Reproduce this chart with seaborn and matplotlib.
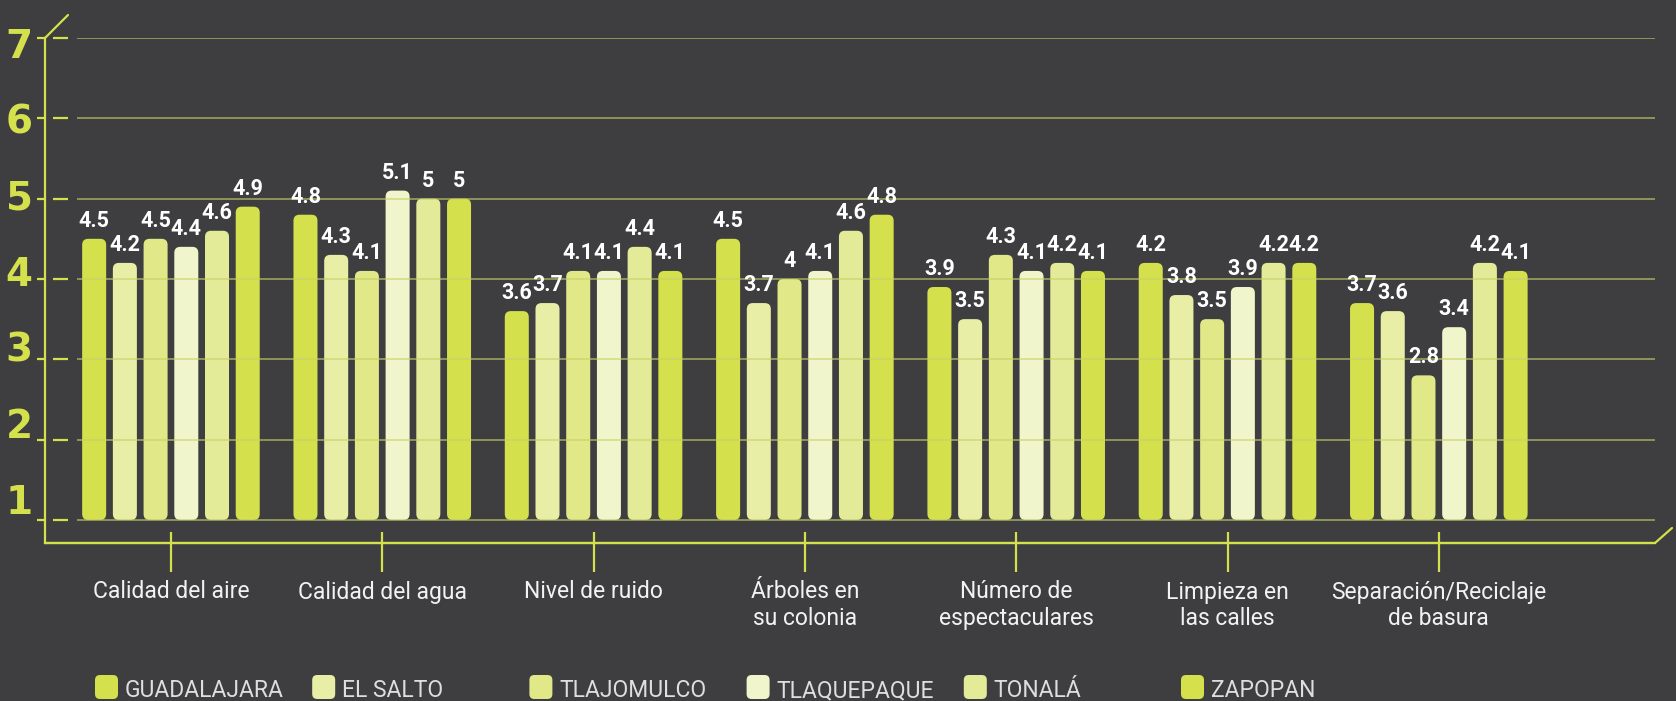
import matplotlib
matplotlib.use("Agg")
import matplotlib.pyplot as plt
from matplotlib.patches import FancyBboxPatch
import seaborn as sns
import pandas as pd

# --- data ---
categories = ["Calidad del aire", "Calidad del agua", "Nivel de ruido",
              "Árboles en\nsu colonia", "Número de\nespectaculares",
              "Limpieza en\nlas calles", "Separación/Reciclaje\nde basura"]
cities = ["GUADALAJARA", "EL SALTO", "TLAJOMULCO", "TLAQUEPAQUE", "TONALÁ", "ZAPOPAN"]
guadalajara = [4.5, 4.8, 3.6, 4.5, 3.9, 4.2, 3.7]
el_salto = [4.2, 4.3, 3.7, 3.7, 3.5, 3.8, 3.6]
tlajomulco = [4.5, 4.1, 4.1, 4.0, 4.3, 3.5, 2.8]
tlaquepaque = [4.4, 5.1, 4.1, 4.1, 4.1, 3.9, 3.4]
tonala = [4.6, 5.0, 4.4, 4.6, 4.2, 4.2, 4.2]
zapopan = [4.9, 5.0, 4.1, 4.8, 4.1, 4.2, 4.1]
yticks = [1, 2, 3, 4, 5, 6, 7]
colors = ["#d4e04c", "#e8eea5", "#e0e888", "#f0f5cb", "#e3eb98", "#d4e04c"]

series = [guadalajara, el_salto, tlajomulco, tlaquepaque, tonala, zapopan]
rows = []
for city, vals in zip(cities, series):
    for cat, v in zip(categories, vals):
        rows.append({"cat": cat, "city": city, "value": v, "rise": v - 1})
df = pd.DataFrame(rows)

bg = "#3e3e40"
yellow = "#d4e04c"
W, H = 1676, 701

sns.set_theme(style="white")
fig = plt.figure(figsize=(W / 100, H / 100), dpi=100, facecolor=bg)
ax_w, ax_h = 1610, 505
ax = fig.add_axes([45 / W, 1 - 543 / H, ax_w / W, ax_h / H])
ax.set_facecolor(bg)

sns.barplot(df, x="cat", y="rise", hue="city", order=categories, hue_order=cities,
            palette=dict(zip(cities, colors)), width=0.872, gap=0.218, bottom=1,
            saturation=1, legend=False, errorbar=None, ax=ax, zorder=2)

xlim = (-0.596, 7.023)
ylim = (0.713, 7)
ax.set_xlim(*xlim)
ax.set_ylim(*ylim)
ax.set_xlabel("")
ax.set_ylabel("")

# rounded bars
asp = ((ylim[1] - ylim[0]) / ax_h) / ((xlim[1] - xlim[0]) / ax_w)
r = 6 * (xlim[1] - xlim[0]) / ax_w
for p in list(ax.patches):
    x, y, w, h = p.get_x(), p.get_y(), p.get_width(), p.get_height()
    fc = p.get_facecolor()
    p.remove()
    ax.add_patch(FancyBboxPatch((x, y), w, h, boxstyle=f"round,pad=0,rounding_size={r}",
                                mutation_aspect=asp, fc=fc, ec="none", zorder=2))
    top = round(y + h, 1)
    ax.annotate(f"{top:g}", (x + w / 2, top), xytext=(0, 5), textcoords="offset points",
                ha="center", va="bottom", color="white", fontsize=15.5,
                fontweight="bold", family="Roboto", zorder=4)

# grid, dashes, spines
yt = ax.get_yaxis_transform()
ax.hlines(yticks, 32 / ax_w, 1, transform=yt, color="#c9d06a", lw=1.1, alpha=0.75, zorder=3)
ax.hlines(yticks, 8 / ax_w, 23 / ax_w, transform=yt, color=yellow, lw=1.6, zorder=3, clip_on=False)
for s in ["top", "right"]:
    ax.spines[s].set_visible(False)
for s in ["left", "bottom"]:
    ax.spines[s].set_color(yellow)
    ax.spines[s].set_linewidth(1.6)
ax.plot([0, 23 / ax_w], [1, 1 + 23 / ax_h], transform=ax.transAxes, color=yellow,
        lw=1.6, clip_on=False)
ax.plot([0, 1, 1 + 17 / ax_w], [0, 0, 15 / ax_h], transform=ax.transAxes, color=yellow,
        lw=1.6, clip_on=False)

ax.set_yticks(yticks)
ax.tick_params(axis="y", length=5.8, width=1.6, color=yellow, labelleft=False, left=True)
for v in yticks:
    ax.text(-26 / ax_w, 7 - 0.112 - (7 - v) * 0.946, str(v), transform=yt,
            ha="center", va="center", color=yellow, fontsize=28, fontweight="bold",
            family=["Liberation Sans Narrow", "DejaVu Sans"])

ax.set_xticks(range(len(categories)))
ax.set_xticklabels(categories, family="Roboto", fontsize=16.5, color="#f2f2f2",
                   linespacing=1.2)
ax.tick_params(axis="x", length=0, pad=27)
ax.vlines(range(len(categories)), -0.0574, 0.0218, transform=ax.get_xaxis_transform(),
          color=yellow, lw=1.6, clip_on=False)

# legend
for i, (city, col) in enumerate(zip(cities, colors)):
    x0 = 0.95 + i * 2.172
    fig.add_artist(FancyBboxPatch((x0, 0.02), 0.23, 0.24,
                                  boxstyle="round,pad=0,rounding_size=0.05",
                                  transform=fig.dpi_scale_trans, fc=col, ec="none"))
    fig.text(x0 + 0.30, 0.04, city, transform=fig.dpi_scale_trans, ha="left",
             va="baseline", color="#dedede", fontsize=16.5, family="Roboto")

fig.savefig("out.png", dpi=100, facecolor=bg)
